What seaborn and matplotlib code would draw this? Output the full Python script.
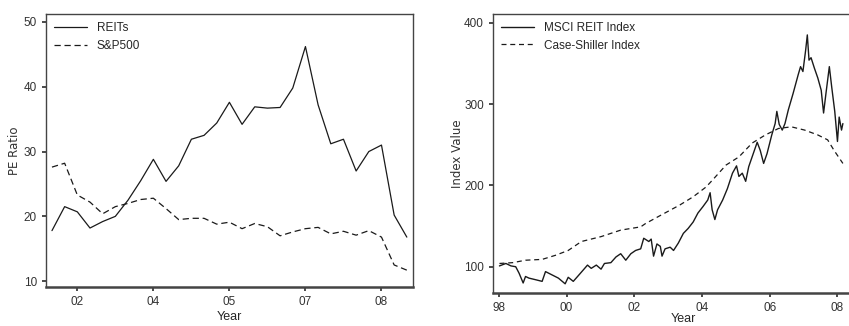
import numpy as np
import pandas as pd
import matplotlib
matplotlib.use("Agg")
import matplotlib.pyplot as plt
import seaborn as sns

# left panel: quarterly PE ratios
pe_index = list(range(29))
pe_ticks = [2, 8, 14, 20, 26]
pe_tick_labels = ["02", "04", "05", "07", "08"]
reits_pe = [17.8, 21.5, 20.7, 18.2, 19.2, 20.0, 22.5, 25.5, 28.8, 25.4,
            27.8, 31.9, 32.5, 34.4, 37.6, 34.2, 36.9, 36.7, 36.8, 39.8,
            46.2, 37.2, 31.2, 31.9, 27.0, 30.0, 31.0, 20.2, 16.8]
sp500_pe = [27.6, 28.2, 23.3, 22.2, 20.4, 21.5, 22.0, 22.6, 22.8, 21.2,
            19.5, 19.7, 19.7, 18.8, 19.1, 18.1, 18.9, 18.4, 17.0, 17.6,
            18.1, 18.3, 17.3, 17.7, 17.1, 17.8, 16.8, 12.5, 11.7]

# right panel: index values
msci_year = [1998.02, 1998.21, 1998.36, 1998.50, 1998.60, 1998.72, 1998.79, 1998.89,
             1999.09, 1999.28, 1999.38, 1999.57, 1999.76, 1999.96, 2000.05, 2000.20,
             2000.39, 2000.62, 2000.73, 2000.88, 2001.02, 2001.12, 2001.31, 2001.46,
             2001.60, 2001.75, 2001.90, 2002.04, 2002.19, 2002.28, 2002.43, 2002.50,
             2002.57, 2002.67, 2002.77, 2002.82, 2002.91, 2003.06, 2003.16, 2003.30,
             2003.45, 2003.59, 2003.74, 2003.88, 2004.03, 2004.17, 2004.24, 2004.30,
             2004.38, 2004.46, 2004.61, 2004.75, 2004.90, 2005.02, 2005.09, 2005.19,
             2005.29, 2005.38, 2005.53, 2005.63, 2005.72, 2005.82, 2005.92, 2006.06,
             2006.16, 2006.21, 2006.28, 2006.37, 2006.45, 2006.55, 2006.69, 2006.84,
             2006.91, 2006.98, 2007.06, 2007.11, 2007.16, 2007.22, 2007.32, 2007.42,
             2007.52, 2007.59, 2007.66, 2007.76, 2007.83, 2007.92, 2008.00, 2008.05,
             2008.12, 2008.16]
msci_value = [101, 104, 101, 100, 92, 80, 88, 86,
              84, 82, 94, 90, 86, 79, 87, 82,
              91, 102, 98, 102, 97, 104, 105, 112,
              116, 108, 116, 120, 122, 135, 131, 134,
              113, 128, 125, 113, 122, 124, 120, 129,
              141, 147, 155, 166, 174, 182, 191, 170,
              158, 170, 182, 196, 215, 224, 211, 215,
              205, 223, 241, 253, 243, 227, 239, 262,
              276, 291, 275, 268, 276, 293, 313, 336,
              346, 340, 366, 385, 354, 357, 344, 332,
              317, 289, 313, 346, 321, 291, 254, 284,
              268, 276]
cs_year = [1998.02, 1998.41, 1998.79, 1999.28, 1999.67, 2000.05, 2000.44, 2001.02,
           2001.60, 2002.19, 2002.33, 2002.77, 2003.35, 2003.74, 2004.12, 2004.32,
           2004.71, 2005.09, 2005.48, 2005.87, 2006.26, 2006.64, 2007.03, 2007.42,
           2007.71, 2007.90, 2008.16]
cs_value = [104, 105, 108, 109, 114, 120, 131, 137,
            145, 149, 153, 163, 176, 186, 198, 207,
            225, 235, 252, 262, 270, 272, 268, 262,
            256, 243, 227]
idx_ticks = [1998, 2000, 2002, 2004, 2006, 2008]
idx_tick_labels = ["98", "00", "02", "04", "06", "08"]

sns.set_theme(style="ticks")
plt.rcParams["font.family"] = ["Liberation Sans", "DejaVu Sans"]
plt.rcParams.update({
    "axes.edgecolor": "#444444",
    "axes.linewidth": 1.0,
    "xtick.color": "#333333",
    "ytick.color": "#333333",
    "xtick.labelsize": 8.5,
    "ytick.labelsize": 8.5,
    "xtick.major.size": 3,
    "ytick.major.size": 3,
})

LINE = "#1a1a1a"
fig = plt.figure(figsize=(8.49, 3.26), dpi=100)
ax1 = fig.add_axes([0.0542, 0.1196, 0.432, 0.837])
ax2 = fig.add_axes([0.5807, 0.101, 0.4476, 0.856])

sns.lineplot(x=pe_index, y=reits_pe, ax=ax1, color=LINE, lw=0.9, label="REITs")
sns.lineplot(x=pe_index, y=sp500_pe, ax=ax1, color=LINE, lw=0.9, linestyle=(0, (5, 3)), label="S&P500")
ax1.set_xlim(-0.47, 28.47)
ax1.set_ylim(9.1, 51.2)
ax1.set_xticks(pe_ticks)
ax1.set_xticklabels(pe_tick_labels)
ax1.set_yticks([10, 20, 30, 40, 50])
ax1.set_xlabel("Year", fontsize=9, labelpad=2)
ax1.set_ylabel("PE Ratio", fontsize=8.5, family="DejaVu Sans", color="#333333", labelpad=2)
ax1.spines["bottom"].set_linewidth(1.8)
ax1.legend(loc="upper left", frameon=False, fontsize=8.5, handlelength=2.8,
           borderaxespad=0.3, labelspacing=0.45)

sns.lineplot(x=msci_year, y=msci_value, ax=ax2, color=LINE, lw=1.0, label="MSCI REIT Index")
sns.lineplot(x=cs_year, y=cs_value, ax=ax2, color=LINE, lw=0.9, linestyle=(0, (4, 3)), label="Case-Shiller Index")
ax2.set_xlim(1997.83, 2009.05)
ax2.set_ylim(67.6, 410.7)
ax2.set_xticks(idx_ticks)
ax2.set_xticklabels(idx_tick_labels)
ax2.set_yticks([100, 200, 300, 400])
ax2.set_xlabel("Year", fontsize=9, labelpad=-1)
ax2.set_ylabel("Index Value", fontsize=8.5, family="DejaVu Sans", color="#333333", labelpad=0)
ax2.spines["bottom"].set_linewidth(1.8)
ax2.legend(loc="upper left", frameon=False, fontsize=8.5, handlelength=2.8,
           borderaxespad=0.3, labelspacing=0.45)

fig.savefig("out.png", dpi=100)
